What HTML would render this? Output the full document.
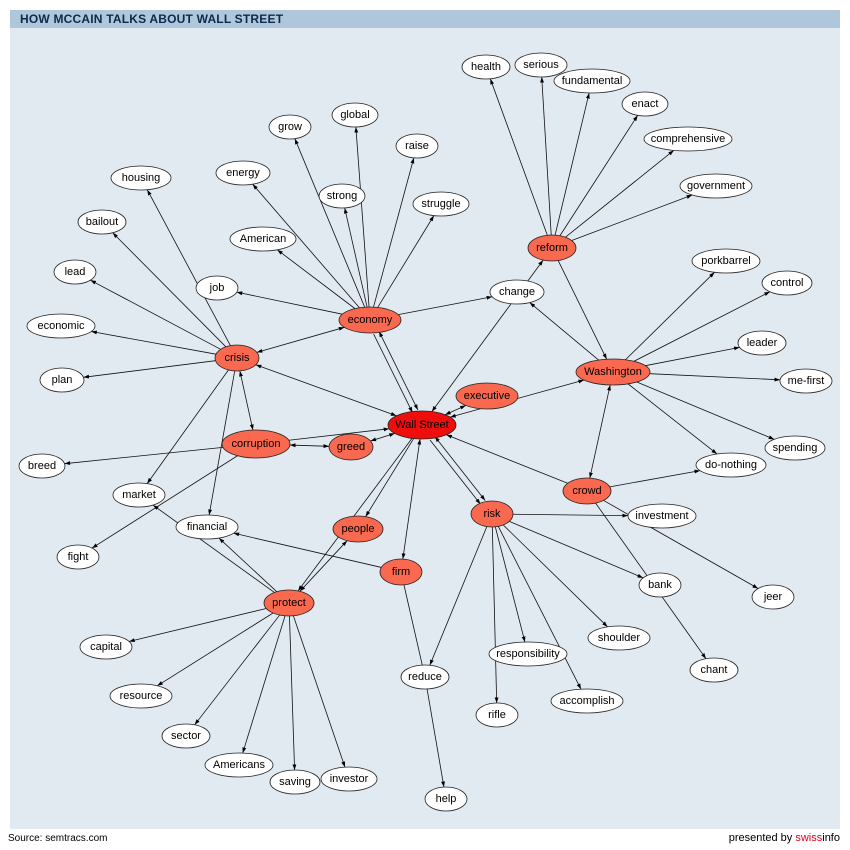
<!DOCTYPE html>
<html><head><meta charset="utf-8"><style>
body{margin:0;background:#fff;width:850px;height:850px;overflow:hidden;font-family:"Liberation Sans",sans-serif}
#hdr{position:absolute;left:10px;top:10px;width:830px;height:18px;background:#b0c6da;color:#0d2a4a;font-weight:bold;font-size:12px;line-height:18px;padding-left:10px;box-sizing:border-box;letter-spacing:0.2px}
#panel{position:absolute;left:10px;top:28px;width:830px;height:801px;background:#e1e9f1}
#src{position:absolute;left:8px;top:833px;font-size:10px;color:#000}
#pres{position:absolute;right:10px;top:832px;font-size:11px;color:#000}
svg{position:absolute;left:0;top:0}
text{font-family:"Liberation Sans",sans-serif;font-size:11px;text-anchor:middle;dominant-baseline:central;fill:#000}
ellipse{stroke:#222;stroke-width:0.8}
.w{fill:#fff}.r{fill:#f8694f}.R{fill:#ee0e0e}
</style></head><body>
<div id="hdr">HOW MCCAIN TALKS ABOUT WALL STREET</div>
<div id="panel"></div>
<div id="src">Source: semtracs.com</div>
<div id="pres">presented by <span style="color:#e3001b">swiss</span>info</div>
<svg id="s" width="850" height="850">
<defs><marker id="a" viewBox="0 0 10 10" refX="10" refY="5" markerWidth="7" markerHeight="7" orient="auto-start-reverse"><path d="M0,1.5L10,5L0,8.5z" fill="#000"/></marker></defs>
<g id="edges"></g>
<g id="nodes">
<ellipse id="WS" class="R" cx="422" cy="425" rx="34" ry="14"/><text x="422" y="425">Wall Street</text>
<ellipse id="executive" class="r" cx="487" cy="396" rx="31" ry="13"/><text x="487" y="396">executive</text>
<ellipse id="greed" class="r" cx="351" cy="447" rx="22" ry="13"/><text x="351" y="447">greed</text>
<ellipse id="corruption" class="r" cx="256" cy="444" rx="34" ry="14"/><text x="256" y="444">corruption</text>
<ellipse id="crisis" class="r" cx="237" cy="358" rx="22" ry="13"/><text x="237" y="358">crisis</text>
<ellipse id="economy" class="r" cx="370" cy="320" rx="31" ry="13"/><text x="370" y="320">economy</text>
<ellipse id="reform" class="r" cx="552" cy="248" rx="24" ry="13"/><text x="552" y="248">reform</text>
<ellipse id="Washington" class="r" cx="613" cy="372" rx="37" ry="13"/><text x="613" y="372">Washington</text>
<ellipse id="crowd" class="r" cx="587" cy="491" rx="24" ry="13"/><text x="587" y="491">crowd</text>
<ellipse id="risk" class="r" cx="492" cy="514" rx="21" ry="13"/><text x="492" y="514">risk</text>
<ellipse id="firm" class="r" cx="401" cy="572" rx="21" ry="13"/><text x="401" y="572">firm</text>
<ellipse id="people" class="r" cx="358" cy="529" rx="25" ry="13"/><text x="358" y="529">people</text>
<ellipse id="protect" class="r" cx="289" cy="603" rx="25" ry="13"/><text x="289" y="603">protect</text>
<ellipse id="health" class="w" cx="486" cy="67" rx="24" ry="12"/><text x="486" y="67">health</text>
<ellipse id="serious" class="w" cx="541" cy="65" rx="26" ry="12"/><text x="541" y="65">serious</text>
<ellipse id="fundamental" class="w" cx="592" cy="81" rx="38" ry="12"/><text x="592" y="81">fundamental</text>
<ellipse id="enact" class="w" cx="645" cy="104" rx="23" ry="12"/><text x="645" y="104">enact</text>
<ellipse id="comprehensive" class="w" cx="688" cy="139" rx="44" ry="12"/><text x="688" y="139">comprehensive</text>
<ellipse id="government" class="w" cx="716" cy="186" rx="36" ry="12"/><text x="716" y="186">government</text>
<ellipse id="porkbarrel" class="w" cx="726" cy="261" rx="34" ry="12"/><text x="726" y="261">porkbarrel</text>
<ellipse id="control" class="w" cx="787" cy="283" rx="25" ry="12"/><text x="787" y="283">control</text>
<ellipse id="leader" class="w" cx="762" cy="343" rx="24" ry="12"/><text x="762" y="343">leader</text>
<ellipse id="mefirst" class="w" cx="806" cy="381" rx="26" ry="12"/><text x="806" y="381">me-first</text>
<ellipse id="spending" class="w" cx="795" cy="448" rx="30" ry="12"/><text x="795" y="448">spending</text>
<ellipse id="donothing" class="w" cx="731" cy="465" rx="35" ry="12"/><text x="731" y="465">do-nothing</text>
<ellipse id="investment" class="w" cx="662" cy="516" rx="34" ry="12"/><text x="662" y="516">investment</text>
<ellipse id="jeer" class="w" cx="773" cy="597" rx="21" ry="12"/><text x="773" y="597">jeer</text>
<ellipse id="bank" class="w" cx="660" cy="585" rx="21" ry="12"/><text x="660" y="585">bank</text>
<ellipse id="chant" class="w" cx="714" cy="670" rx="24" ry="12"/><text x="714" y="670">chant</text>
<ellipse id="shoulder" class="w" cx="619" cy="638" rx="31" ry="12"/><text x="619" y="638">shoulder</text>
<ellipse id="accomplish" class="w" cx="587" cy="701" rx="36" ry="12"/><text x="587" y="701">accomplish</text>
<ellipse id="responsibility" class="w" cx="528" cy="654" rx="39" ry="12"/><text x="528" y="654">responsibility</text>
<ellipse id="rifle" class="w" cx="497" cy="715" rx="21" ry="12"/><text x="497" y="715">rifle</text>
<ellipse id="reduce" class="w" cx="425" cy="677" rx="24" ry="12"/><text x="425" y="677">reduce</text>
<ellipse id="help" class="w" cx="446" cy="799" rx="21" ry="12"/><text x="446" y="799">help</text>
<ellipse id="investor" class="w" cx="349" cy="779" rx="28" ry="12"/><text x="349" y="779">investor</text>
<ellipse id="saving" class="w" cx="295" cy="782" rx="25" ry="12"/><text x="295" y="782">saving</text>
<ellipse id="Americans" class="w" cx="239" cy="765" rx="34" ry="12"/><text x="239" y="765">Americans</text>
<ellipse id="sector" class="w" cx="186" cy="736" rx="24" ry="12"/><text x="186" y="736">sector</text>
<ellipse id="resource" class="w" cx="141" cy="696" rx="31" ry="12"/><text x="141" y="696">resource</text>
<ellipse id="capital" class="w" cx="106" cy="647" rx="26" ry="12"/><text x="106" y="647">capital</text>
<ellipse id="financial" class="w" cx="207" cy="527" rx="31" ry="12"/><text x="207" y="527">financial</text>
<ellipse id="market" class="w" cx="139" cy="495" rx="26" ry="12"/><text x="139" y="495">market</text>
<ellipse id="fight" class="w" cx="78" cy="557" rx="21" ry="12"/><text x="78" y="557">fight</text>
<ellipse id="breed" class="w" cx="42" cy="466" rx="23" ry="12"/><text x="42" y="466">breed</text>
<ellipse id="plan" class="w" cx="62" cy="380" rx="22" ry="12"/><text x="62" y="380">plan</text>
<ellipse id="economic" class="w" cx="61" cy="326" rx="34" ry="12"/><text x="61" y="326">economic</text>
<ellipse id="lead" class="w" cx="75" cy="272" rx="21" ry="12"/><text x="75" y="272">lead</text>
<ellipse id="bailout" class="w" cx="102" cy="222" rx="24" ry="12"/><text x="102" y="222">bailout</text>
<ellipse id="housing" class="w" cx="141" cy="178" rx="30" ry="12"/><text x="141" y="178">housing</text>
<ellipse id="energy" class="w" cx="243" cy="173" rx="27" ry="12"/><text x="243" y="173">energy</text>
<ellipse id="grow" class="w" cx="290" cy="127" rx="21" ry="12"/><text x="290" y="127">grow</text>
<ellipse id="global" class="w" cx="355" cy="115" rx="23" ry="12"/><text x="355" y="115">global</text>
<ellipse id="raise" class="w" cx="417" cy="146" rx="21" ry="12"/><text x="417" y="146">raise</text>
<ellipse id="strong" class="w" cx="342" cy="196" rx="23" ry="12"/><text x="342" y="196">strong</text>
<ellipse id="struggle" class="w" cx="441" cy="204" rx="28" ry="12"/><text x="441" y="204">struggle</text>
<ellipse id="American" class="w" cx="263" cy="239" rx="33" ry="12"/><text x="263" y="239">American</text>
<ellipse id="job" class="w" cx="217" cy="288" rx="21" ry="12"/><text x="217" y="288">job</text>
<ellipse id="change" class="w" cx="517" cy="292" rx="27" ry="12"/><text x="517" y="292">change</text>
</g>
</svg>
<script>
var E=[
["reform","health",1],["reform","serious",1],["reform","fundamental",1],["reform","enact",1],["reform","comprehensive",1],["reform","government",1],["reform","Washington",1],
["Washington","change",1],["Washington","porkbarrel",1],["Washington","control",1],["Washington","leader",1],["Washington","mefirst",1],["Washington","spending",1],["Washington","donothing",1],
["Washington","crowd",2],["WS","Washington",2],["WS","executive",2],["WS","reform",2],
["economy","change",1],["economy","job",1],["economy","American",1],["economy","energy",1],["economy","grow",1],["economy","global",1],["economy","raise",1],["economy","strong",1],["economy","struggle",1],
["economy","WS",2,-3],["economy","WS",1,3],["economy","crisis",2],
["crisis","housing",1],["crisis","bailout",1],["crisis","lead",1],["crisis","economic",1],["crisis","plan",1],["crisis","market",1],["crisis","financial",1],["crisis","WS",2],["crisis","corruption",2],
["corruption","breed",1],["corruption","fight",1],["corruption","greed",2],["greed","WS",2],["corruption","WS",1],
["WS","risk",2,-3],["WS","risk",1,3],["risk","investment",1],["risk","bank",1],["risk","shoulder",1],["risk","accomplish",1],["risk","responsibility",1],["risk","rifle",1],["risk","reduce",1],
["crowd","WS",1],["crowd","donothing",1],["crowd","jeer",1],["crowd","chant",1],
["WS","firm",2],["firm","financial",1],["firm","reduce",0],["reduce","help",1],
["WS","people",1],["people","protect",2],["WS","protect",1],
["protect","market",1],["protect","financial",1],["protect","capital",1],["protect","resource",1],["protect","sector",1],["protect","Americans",1],["protect","saving",1],["protect","investor",1]];
function g(id){var e=document.getElementById(id);return{x:+e.getAttribute("cx"),y:+e.getAttribute("cy"),rx:+e.getAttribute("rx"),ry:+e.getAttribute("ry")}}
function b(n,dx,dy){var l=Math.sqrt(dx*dx+dy*dy),ux=dx/l,uy=dy/l;var t=1/Math.sqrt(ux*ux/(n.rx*n.rx)+uy*uy/(n.ry*n.ry));return[n.x+ux*t,n.y+uy*t]}
var G=document.getElementById("edges"),h="";
E.forEach(function(e){var a=g(e[0]),c=g(e[1]);var dx=c.x-a.x,dy=c.y-a.y;var p=b(a,dx,dy),q=b(c,-dx,-dy);
var o=e[3]||0,l=Math.sqrt(dx*dx+dy*dy),nx=-dy/l*o,ny=dx/l*o;
h+='<line x1="'+(p[0]+nx)+'" y1="'+(p[1]+ny)+'" x2="'+(q[0]+nx)+'" y2="'+(q[1]+ny)+'" stroke="#111" stroke-width="0.8"'+(e[2]>=1?' marker-end="url(#a)"':'')+(e[2]==2?' marker-start="url(#a)"':'')+'/>';});
G.innerHTML=h;
</script>
</body></html>
